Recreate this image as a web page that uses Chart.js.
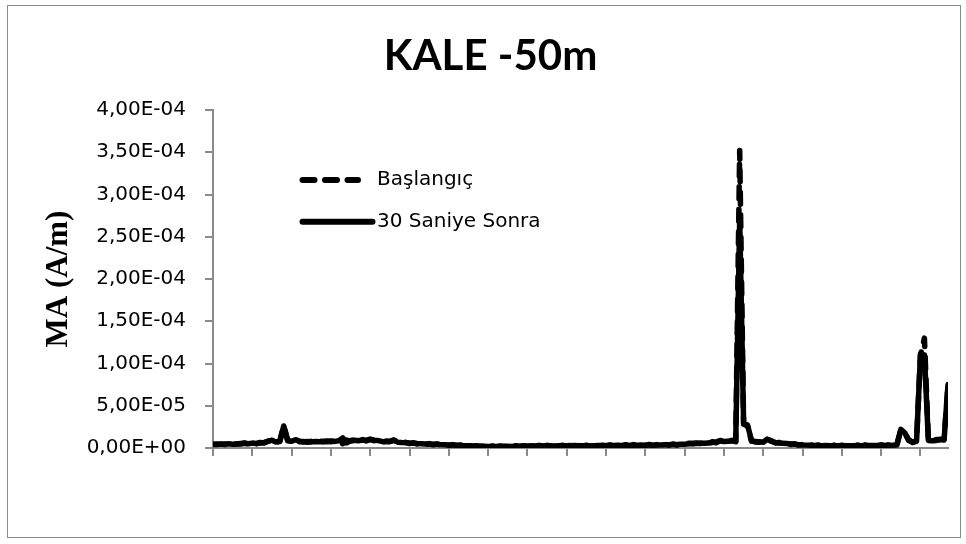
<!DOCTYPE html>
<html>
<head>
<meta charset="utf-8">
<title>KALE -50m</title>
<script src="https://cdn.jsdelivr.net/npm/chart.js@4.4.1/dist/chart.umd.min.js"></script>
<style>
  html, body { margin: 0; padding: 0; background: #ffffff; }
  #wrap { width: 966px; height: 544px; }
</style>
</head>
<body>
<div id="wrap"><canvas id="c" width="966" height="544"></canvas></div>
<script>
// Magnetisation readings along the profile, in units of 1e-6 A/m.
const seriesNames = ['Başlangıç', '30 Saniye Sonra'];

const baslangic = [
  4.2, 4.0, 4.9, 4.0, 5.4, 4.0, 5.0, 4.6, 5.9, 4.7, 6.2, 5.0, 6.6,
  6.0, 8.2, 8.6, 6.6, 8.3, 26.5,
  9.2, 7.6, 9.4, 7.4,
  7.8, 6.8, 8.0, 7.0, 8.2, 7.2, 8.3, 7.4, 8.4,
  7.6, 5.0, 9.4,
  8.2, 9.8, 8.0, 10.0, 8.4, 10.0, 8.6, 9.4,
  7.0, 8.2, 7.4, 9.0,
  7.6, 5.8, 6.8, 5.2, 6.2, 4.6,
  5.6, 4.2, 5.2, 3.8, 4.8, 3.4, 4.4, 3.0, 4.0, 2.7, 3.6,
  2.3, 3.2, 1.9, 2.8, 1.6, 2.5, 1.4, 2.5, 1.3, 2.4, 1.5, 2.6, 1.4, 2.7, 1.5, 2.8, 1.8,
  3.2, 1.9, 3.2, 2.0, 3.2, 2.2, 3.1, 2.1, 3.2, 1.9, 3.3, 2.3, 3.2, 2.2, 3.3, 2.0, 3.4, 2.4, 3.3, 2.3,
  3.7, 2.4, 3.8, 2.5, 3.9, 2.6, 4.0, 2.7, 4.1, 2.8, 4.2, 2.9, 4.3, 3.0, 4.5, 3.3, 4.7, 3.5, 5.0, 3.8,
  5.7, 4.9, 5.9, 5.1, 6.2, 5.3,
  7.4, 6.2, 8.2,
  8.4, 7.2, 9.2, 7.4,
  352,
  28, 26, 8.0,
  7.8, 6.6, 7.6,
  10.0,
  8.6, 6.0, 6.6, 5.0, 5.8, 4.2, 5.0, 3.4,
  4.2, 2.8, 3.8, 2.4, 3.5, 2.2, 3.5, 2.1, 3.4, 2.0, 3.3, 2.2, 3.3, 2.0, 3.5, 2.2, 3.6, 2.3, 3.7, 2.4, 3.8, 2.5, 3.9, 2.8, 4.2,
  21.5, 17.5, 9.8, 6.4, 8.6,
  110, 130,
  10.0, 7.6, 10.0, 9.6, 10.4,
  74
];

const sonra30 = [
  4.5, 4.8, 4.3, 4.6, 5.0, 4.4, 4.7, 5.2, 5.6, 5.0, 5.8, 5.4, 6.0,
  6.5, 7.8, 9.3, 7.2, 7.6, 26,
  8.5, 8.0, 9.8, 8.2,
  7.0, 7.6, 7.2, 7.8, 7.4, 8.0, 7.5, 8.2, 7.8,
  8.6, 12.0, 6.0,
  8.8, 9.2, 8.6, 9.4, 9.0, 10.6, 9.2, 8.8,
  7.8, 7.4, 8.0, 9.6,
  6.8, 6.4, 6.2, 5.8, 5.6, 5.2,
  5.0, 4.8, 4.6, 4.4, 4.3, 4.0, 3.8, 3.6, 3.4, 3.3, 3.1,
  2.8, 2.6, 2.4, 2.2, 2.1, 2.0, 1.9, 2.0, 1.8, 1.9, 2.0, 2.1, 1.9, 2.2, 2.0, 2.3, 2.4,
  2.6, 2.4, 2.7, 2.5, 2.6, 2.8, 2.5, 2.7, 2.6, 2.4, 2.7, 2.9, 2.6, 2.8, 2.7, 2.5, 2.8, 3.0, 2.7, 2.9,
  3.1, 2.9, 3.2, 3.0, 3.3, 3.1, 3.4, 3.2, 3.5, 3.3, 3.6, 3.4, 3.7, 3.5, 3.9, 3.8, 4.1, 4.0, 4.4, 4.3,
  5.0, 5.6, 5.2, 5.8, 5.5, 6.0,
  6.6, 7.0, 8.9,
  7.6, 8.0, 8.4, 8.2,
  270,
  30, 27, 9.0,
  7.0, 7.4, 6.8,
  10.5,
  8.0, 6.6, 6.0, 5.6, 5.2, 4.8, 4.4, 4.0,
  3.6, 3.4, 3.2, 3.0, 2.9, 2.8, 2.9, 2.7, 2.8, 2.6, 2.7, 2.8, 2.6, 2.7, 2.9, 2.8, 3.0, 2.9, 3.1, 3.0, 3.2, 3.1, 3.3, 3.4, 3.6,
  22, 18, 9, 7, 8,
  111, 110,
  9, 8.5, 9, 10.5, 9.5,
  75
];

// Sample numbers along the horizontal axis (no labels are printed on it).
const samples = baslangic.map((_, i) => i);

// Vertical axis: 0 … 400 (×1e-6 A/m), labelled in Excel-style scientific notation.
const yTickLabels = ['0,00E+00', '5,00E-05', '1,00E-04', '1,50E-04', '2,00E-04',
                     '2,50E-04', '3,00E-04', '3,50E-04', '4,00E-04'];

const AXIS_GREY = '#8a8a8a';
const TEXT_FONT = 'DejaVu Sans';
const LINE_W = 5.5;

const toPoints = (vals) => vals.map((v, i) => ({ x: samples[i], y: v }));

// White page with a thin grey frame around the whole chart.
const framePlugin = {
  id: 'frame',
  beforeDraw(chart) {
    const { ctx, width, height } = chart;
    ctx.save();
    ctx.fillStyle = '#ffffff';
    ctx.fillRect(0, 0, width, height);
    ctx.strokeStyle = AXIS_GREY;
    ctx.lineWidth = 1;
    ctx.strokeRect(7.5, 5.5, 953, 532);
    ctx.restore();
  }
};

// Legend drawn inside the plot area, at its upper left.
const innerLegend = {
  id: 'innerLegend',
  afterDraw(chart, args, opts) {
    const { ctx, chartArea } = chart;
    ctx.save();
    chart.data.datasets.forEach((ds, k) => {
      const y = chartArea.top + opts.top + k * opts.rowGap;
      const x0 = chartArea.left + opts.left;
      ctx.beginPath();
      ctx.strokeStyle = ds.borderColor;
      ctx.lineWidth = opts.lineWidth;
      ctx.lineCap = 'round';
      ctx.setLineDash(ds.borderDash || []);
      ctx.moveTo(x0, y);
      ctx.lineTo(x0 + opts.lineLengths[k], y);
      ctx.stroke();
      ctx.setLineDash([]);
      ctx.fillStyle = '#000000';
      ctx.font = opts.font;
      ctx.textAlign = 'left';
      ctx.textBaseline = 'middle';
      ctx.fillText(ds.label, chartArea.left + opts.textLeft, y);
    });
    ctx.restore();
  }
};

new Chart(document.getElementById('c'), {
  type: 'line',
  data: {
    datasets: [
      {
        label: seriesNames[0],
        data: toPoints(baslangic),
        borderColor: '#000000',
        borderWidth: LINE_W,
        borderDash: [12, 10.5],
        borderCapStyle: 'round',
        borderJoinStyle: 'round',
        pointRadius: 0,
        tension: 0,
        fill: false
      },
      {
        label: seriesNames[1],
        data: toPoints(sonra30),
        borderColor: '#000000',
        borderWidth: LINE_W,
        borderCapStyle: 'round',
        borderJoinStyle: 'round',
        pointRadius: 0,
        tension: 0,
        fill: false
      }
    ]
  },
  options: {
    responsive: false,
    animation: false,
    devicePixelRatio: 1,
    layout: { padding: { left: 33, right: 18, top: 0, bottom: 6 } },
    plugins: {
      legend: { display: false },
      tooltip: { enabled: false },
      title: {
        display: true,
        text: 'KALE -50m',
        color: '#000000',
        font: { family: 'Lato', size: 42, weight: 'bold' },
        padding: { top: 30.8, bottom: 28.8 }
      },
      innerLegend: {
        left: 89.5,
        top: 70,
        rowGap: 41.7,
        lineWidth: 6,
        lineLengths: [55.5, 70],
        textLeft: 164,
        font: '20px "' + TEXT_FONT + '"'
      }
    },
    scales: {
      x: {
        type: 'linear',
        min: 0,
        max: samples[samples.length - 1],
        afterFit(scale) { scale.height = 90; },
        afterBuildTicks(scale) {
          scale.ticks = scale.ticks.filter(t => t.value % 10 === 0);
        },
        ticks: { display: false, stepSize: 10, includeBounds: false },
        grid: {
          drawOnChartArea: false,
          drawTicks: true,
          tickLength: 8,
          color: AXIS_GREY,
          lineWidth: 2
        },
        border: { display: true, color: AXIS_GREY, width: 2 }
      },
      y: {
        type: 'linear',
        min: 0,
        max: 400,
        afterFit(scale) { scale.width = 180; },
        ticks: {
          stepSize: 50,
          padding: 19,
          color: '#000000',
          font: { family: TEXT_FONT, size: 20 },
          callback: (v) => yTickLabels[Math.round(v / 50)]
        },
        grid: {
          drawOnChartArea: false,
          drawTicks: true,
          tickLength: 8,
          color: AXIS_GREY,
          lineWidth: 2
        },
        border: { display: true, color: AXIS_GREY, width: 2 },
        title: {
          display: true,
          text: 'MA (A/m)',
          color: '#000000',
          font: { family: 'Liberation Serif', size: 31, weight: 'bold' },
          padding: { top: 7, bottom: 0 }
        }
      }
    }
  },
  plugins: [framePlugin, innerLegend]
});
</script>
</body>
</html>
